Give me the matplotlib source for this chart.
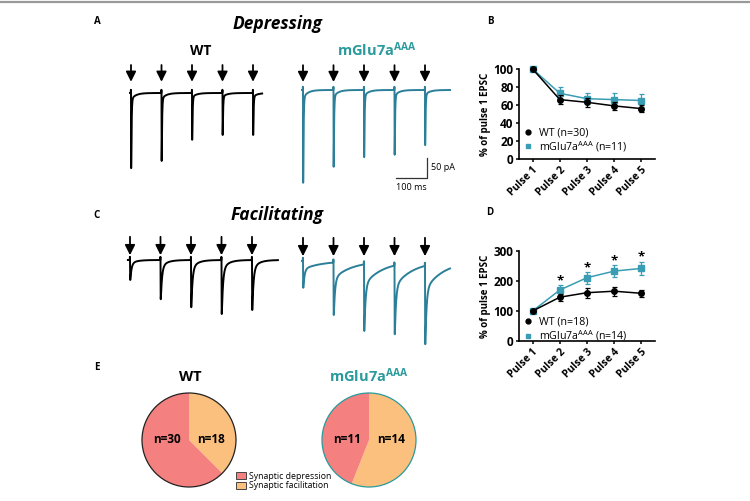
import numpy as np
import matplotlib
matplotlib.use("Agg")
import matplotlib.pyplot as plt
from matplotlib.lines import Line2D
from matplotlib.patches import Patch, Circle

plt.rcParams['font.family'] = ['Open Sans', 'DejaVu Sans']
plt.rcParams['mathtext.fontset'] = 'custom'
plt.rcParams['mathtext.rm'] = 'Open Sans'
plt.rcParams['mathtext.bf'] = 'Open Sans:bold'
plt.rcParams['mathtext.it'] = 'Open Sans:italic'

# ---- data -------------------------------------------------------------
pulse_labels = ['Pulse 1', 'Pulse 2', 'Pulse 3', 'Pulse 4', 'Pulse 5']
pulse_idx = [1, 2, 3, 4, 5]

# B: depressing synapses (% of pulse 1 EPSC)
dep_wt_mean = [100, 66, 63, 59, 56]
dep_wt_sem = [0, 5, 5, 4, 4]
dep_mglu_mean = [100, 73, 67, 66, 65]
dep_mglu_sem = [0, 7, 6, 7, 7]

# D: facilitating synapses
fac_wt_mean = [100, 146, 161, 166, 159]
fac_wt_sem = [0, 12, 16, 15, 12]
fac_mglu_mean = [100, 170, 211, 233, 242]
fac_mglu_sem = [0, 17, 20, 20, 23]
fac_sig = [False, True, True, True, True]

# example traces: stimulus times (ms) and EPSC amplitudes (pA)
stim_times = [0, 100, 200, 300, 400]
amp_dep_wt = [188, 170, 117, 105, 105]
amp_dep_mglu = [232, 192, 168, 162, 138]
amp_fac_wt = [50, 98, 118, 135, 125]
amp_fac_mglu = [67, 135, 175, 183, 208]

# E: counts (facilitation, depression)
pie_wt = [18, 30]
pie_mglu = [14, 11]

# ---- styles -----------------------------------------------------------
TEAL_TR = '#2b7f98'
TEAL_PT = '#3a9db3'
TEAL_TX = '#2a9a9c'
C_DEP = '#f4807f'
C_FAC = '#fbbf7e'

W, H = 750, 501
fig = plt.figure(figsize=(7.5, 5.01), dpi=100)


def fx(x):
    return x / W


def fy(y):
    return 1 - y / H


def rect(left, top, width, height):
    return [fx(left), fy(top + height), width / W, height / H]


fig.add_artist(Line2D([0, 1], [fy(2), fy(2)], color='#999999', lw=1.6))

# ---- traces -----------------------------------------------------------
PX_MS = 0.305
PX_PA = 0.4


def epsc_shape(s, tau_f, frac_s, tau_s):
    sp = np.clip(s, 0, None)
    g = (1 - np.exp(-sp / 0.3)) * ((1 - frac_s) * np.exp(-sp / tau_f) +
                                   frac_s * np.exp(-sp / tau_s))
    return np.where(s > 0, g, 0.0)


def draw_trace(x0, base, t_end, amps, color, tau_f, frac_s, tau_s,
               arrow_tip, arrow_tail, t_start=-3):
    i_min, i_max = -260, 80
    ax = fig.add_axes(rect(x0 + t_start * PX_MS, base - i_max * PX_PA,
                           (t_end - t_start) * PX_MS, (i_max - i_min) * PX_PA))
    ax.set_xlim(t_start, t_end)
    ax.set_ylim(i_min, i_max)
    ax.axis('off')
    t = np.arange(t_start, t_end, 0.05)
    cur = np.zeros_like(t)
    ref = np.arange(0, 40, 0.02)
    gref = epsc_shape(ref, tau_f, frac_s, tau_s)
    gpk = gref.max()
    tpk = ref[gref.argmax()]
    for tk, a in zip(stim_times, amps):
        i_pk = np.argmin(np.abs(t - (tk + tpk)))
        resid = -cur[i_pk]
        cur = cur - (a - resid) * epsc_shape(t - tk, tau_f, frac_s, tau_s) / gpk
        cur = cur + 8 * np.clip(1 - np.abs(t - tk + 0.3) / 0.6, 0, None)
    ax.plot(t, cur, color=color, lw=1.4, solid_joinstyle='round', clip_on=False)
    for tk in stim_times:
        ax.annotate('', xy=(tk, arrow_tip), xytext=(tk, arrow_tail),
                    arrowprops=dict(arrowstyle='-|>', color='black', lw=1.3,
                                    mutation_scale=15, shrinkA=0, shrinkB=0),
                    annotation_clip=False)
    return ax


draw_trace(131, 93, 430, amp_dep_wt, 'black', 1.3, 0.05, 15, 28, 70)
ax_sb = draw_trace(303, 90, 482, amp_dep_mglu, TEAL_TR, 1.3, 0.05, 15, 20, 62)
draw_trace(130, 260, 485, amp_fac_wt, 'black', 4.0, 0.15, 20, 12, 58, t_start=-7)
draw_trace(303, 261, 482, amp_fac_mglu, TEAL_TR, 4.0, 0.25, 60, 12, 58)

# scale bar: 100 ms / 50 pA
ax_sb.plot([305, 405, 405], [-220, -220, -170], color='#333333', lw=0.9,
           clip_on=False)
ax_sb.text(420, -195, '50 pA', fontsize=6.5, ha='left', va='center',
           clip_on=False)
ax_sb.text(355, -232, '100 ms', fontsize=6.5, ha='center', va='top',
           clip_on=False)

# titles / labels
fig.text(fx(277), fy(24), 'Depressing', fontsize=12.5, fontweight='bold',
         fontstyle='italic', ha='center', va='center')
fig.text(fx(277), fy(215), 'Facilitating', fontsize=12.5, fontweight='bold',
         fontstyle='italic', ha='center', va='center')
fig.text(fx(201), fy(51), 'WT', fontsize=10, fontweight='bold',
         ha='center', va='center')
fig.text(fx(377), fy(50), r'mGlu7a$^{\mathbf{AAA}}$', fontsize=10.5,
         fontweight='bold', color=TEAL_TX, ha='center', va='center')
for lab, x, y in [('A', 97, 22), ('B', 490, 22), ('C', 97, 215),
                  ('D', 490, 212), ('E', 97, 367)]:
    fig.text(fx(x), fy(y), lab, fontsize=7, fontweight='bold',
             ha='center', va='center')


# ---- B and D ----------------------------------------------------------
def pp_axes(top, ymax, ystep, wt_m, wt_s, mg_m, mg_s, n_wt, n_mg, leg_y):
    ax = fig.add_axes(rect(519, top, 136, 90))
    ax.errorbar(pulse_idx, mg_m, yerr=mg_s, color=TEAL_PT, marker='s', ms=4,
                lw=1.1, elinewidth=0.9, capsize=1.8, capthick=0.9,
                clip_on=False, zorder=3)
    ax.errorbar(pulse_idx, wt_m, yerr=wt_s, color='black', marker='o', ms=4,
                lw=1.1, elinewidth=0.9, capsize=1.8, capthick=0.9,
                clip_on=False, zorder=4)
    ax.set_xlim(0.5, 5.5)
    ax.set_ylim(0, ymax)
    ax.set_yticks(np.arange(0, ymax + 1, ystep))
    ax.set_xticks(pulse_idx)
    ax.set_xticklabels(pulse_labels, rotation=45, ha='right',
                       rotation_mode='anchor', fontsize=7.5, fontweight='bold')
    for lab in ax.get_yticklabels():
        lab.set_fontweight('bold')
        lab.set_fontsize(8.5)
    ax.tick_params(length=2.5, width=1.1, pad=1.5)
    for s in ['top', 'right']:
        ax.spines[s].set_visible(False)
    for s in ['left', 'bottom']:
        ax.spines[s].set_linewidth(1.2)
    ax.set_ylabel('% of pulse 1 EPSC', fontsize=7, fontweight='bold',
                  labelpad=2)
    handles = [Line2D([], [], color='black', marker='o', ls='none', ms=3.5),
               Line2D([], [], color=TEAL_PT, marker='s', ls='none', ms=3.5)]
    ax.legend(handles, ['WT (n=%d)' % n_wt,
                        r'mGlu7a$^{\mathrm{AAA}}$ (n=%d)' % n_mg],
              loc='lower left', bbox_to_anchor=(0.03, leg_y), frameon=False,
              fontsize=7.7, handlelength=1.0, handletextpad=0.5,
              borderaxespad=0, borderpad=0, labelspacing=0.05)
    return ax


pp_axes(69, 100, 20, dep_wt_mean, dep_wt_sem, dep_mglu_mean, dep_mglu_sem,
        30, 11, 0.06)
ax_d = pp_axes(251, 300, 100, fac_wt_mean, fac_wt_sem, fac_mglu_mean,
               fac_mglu_sem, 18, 14, -0.02)
for x, m, s, sig in zip(pulse_idx, fac_mglu_mean, fac_mglu_sem, fac_sig):
    if sig:
        ax_d.text(x, m + s + 14, '*', fontsize=9.5, fontweight='bold',
                  ha='center', va='center', clip_on=False)


# ---- E pies -----------------------------------------------------------
def pie_axes(cx, cy, counts, edge, labels):
    r = 47
    ax = fig.add_axes(rect(cx - 1.1 * r, cy - 1.1 * r, 2.2 * r, 2.2 * r))
    ax.pie(counts, colors=[C_FAC, C_DEP], startangle=90, counterclock=False,
           radius=1, wedgeprops=dict(linewidth=0))
    ax.add_patch(Circle((0, 0), 1, fill=False, edgecolor=edge, lw=0.9))
    ax.set_xlim(-1.1, 1.1)
    ax.set_ylim(-1.1, 1.1)
    ax.set_aspect('equal')
    ax.axis('off')
    ax.text(-0.47, 0.02, labels[1], fontsize=8.5, fontweight='bold',
            ha='center', va='center')
    ax.text(0.47, 0.02, labels[0], fontsize=8.5, fontweight='bold',
            ha='center', va='center')
    return ax


pie_axes(189, 440, pie_wt, '#222222', ['n=%d' % pie_wt[0], 'n=%d' % pie_wt[1]])
pie_axes(369, 440, pie_mglu, TEAL_TX,
         ['n=%d' % pie_mglu[0], 'n=%d' % pie_mglu[1]])
fig.text(fx(190), fy(377), 'WT', fontsize=10.5, fontweight='bold',
         ha='center', va='center')
fig.text(fx(369), fy(376), r'mGlu7a$^{\mathbf{AAA}}$', fontsize=10.5,
         fontweight='bold', color=TEAL_TX, ha='center', va='center')
fig.legend([Patch(facecolor=C_DEP, edgecolor='#444444', lw=0.7),
            Patch(facecolor=C_FAC, edgecolor='#444444', lw=0.7)],
           ['Synaptic depression', 'Synaptic facilitation'],
           loc='center left', bbox_to_anchor=(fx(236), fy(481)),
           frameon=False, fontsize=6.3, handlelength=1.1, handleheight=1.0,
           handletextpad=0.4, labelspacing=0.1, borderpad=0,
           borderaxespad=0)

fig.savefig('out.png', dpi=100)
